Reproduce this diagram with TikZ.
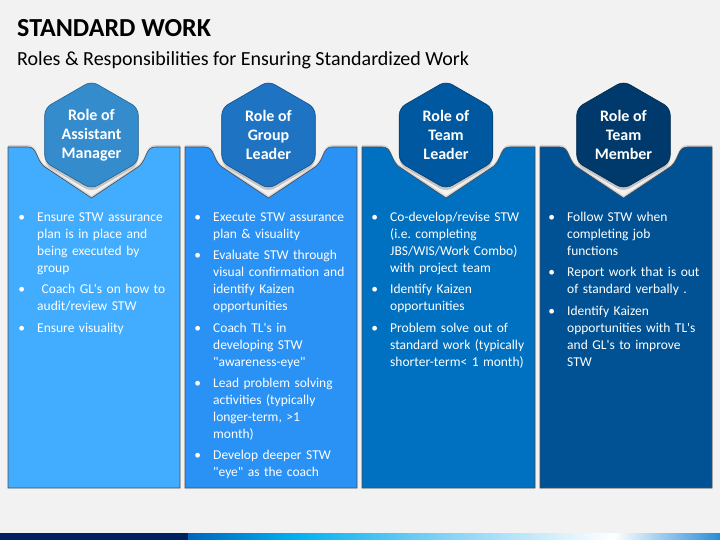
\documentclass[tikz,border=0pt]{standalone}
\usepackage{fontspec}
\setmainfont{Carlito}
\usepackage{enumitem}
\usetikzlibrary{shapes.geometric,shadows,positioning}
\definecolor{pageGray}{RGB}{242,242,242}
\definecolor{panelA}{RGB}{66,173,255}
\definecolor{panelB}{RGB}{42,145,245}
\definecolor{panelC}{RGB}{0,112,192}
\definecolor{panelD}{RGB}{0,82,148}
\definecolor{hexA}{RGB}{52,140,205}
\definecolor{hexB}{RGB}{30,115,195}
\definecolor{hexC}{RGB}{0,88,160}
\definecolor{hexD}{RGB}{0,58,108}
\definecolor{bandNavy}{RGB}{0,32,96}
\definecolor{bandA}{RGB}{0,100,190}
\definecolor{bandB}{RGB}{0,176,240}
\definecolor{bandC}{RGB}{140,212,245}
\definecolor{bandD}{RGB}{40,140,215}
\pgfdeclarehorizontalshading{stwband}{100bp}{color(0bp)=(bandA); color(25bp)=(bandA);
  color(35bp)=(bandB); color(50bp)=(bandC); color(65bp)=(white); color(75bp)=(bandD); color(100bp)=(bandD)}
\setlist[itemize]{label=\textbullet, leftmargin=18pt, labelsep=12pt, itemsep=4.3pt, topsep=0pt, parsep=0pt, partopsep=0pt}
\newcommand\ap{\textquotesingle}
\newcommand\qt{\textquotedbl}
\frenchspacing

\begin{document}
\begin{tikzpicture}[
    x=1pt, y=-1pt,
    panel/.style={draw=gray!60!black, line width=0.6pt,
      drop shadow={opacity=0.25, shadow xshift=0pt, shadow yshift=2pt}},
    hexrole/.style={regular polygon, regular polygon sides=6, regular polygon rotate=30,
      minimum size=108pt, inner sep=0pt, rounded corners=7pt, line width=0.6pt,
      text=white, align=center, font=\fontsize{16}{19}\selectfont\bfseries,
      drop shadow={opacity=0.4, shadow xshift=0pt, shadow yshift=-3pt}},
    stwlist/.style={anchor=north west, inner sep=0pt, text width=175pt, text=white,
      font=\fontsize{13.5}{17}\selectfont\frenchspacing},
    headline/.style={anchor=base west, inner sep=0pt}
    ]
    \useasboundingbox (0,0) rectangle (720,540);
    \fill[pageGray] (0,0) rectangle (720,540);

    \node[headline, font=\fontsize{26}{30}\selectfont\bfseries] (title) at (17,37) {STANDARD WORK};
    \node[headline, font=\fontsize{20}{24}\selectfont] (subtitle) at (17,66)
      {Roles \& Responsibilities for Ensuring Standardized Work};

    % panels with a notch under each hexagon
    \foreach \pl/\pr/\pc/\hc/\nm/\txt in {
        8/180/panelA/hexA/A/{Role of\\Assistant\\Manager},
        185/357/panelB/hexB/B/{Role of\\Group\\Leader},
        362/535/panelC/hexC/C/{Role of\\Team\\Leader},
        540/712/panelD/hexD/D/{Role of\\Team\\Member}}{
      \pgfmathsetmacro\cx{(\pl+\pr)/2-2.5}
      \filldraw[panel, fill=\pc] (\pl,147) -- ({\cx-64},147)
        .. controls ({\cx-54},147) and ({\cx-56},158) .. ({\cx-48},166)
        -- (\cx,198) -- ({\cx+48},166)
        .. controls ({\cx+56},158) and ({\cx+54},147) .. ({\cx+64},147)
        -- (\pr,147) -- (\pr,488) -- (\pl,488) -- cycle;
      \node[hexrole, fill=\hc, draw=\hc!70!black] (role\nm) at (\cx,135) {\txt};
    }

    \node[stwlist] (listA) at (19,204.5) {\begin{itemize}
      \item Ensure STW assurance\\plan is in place and\\being executed by\\group
      \item \ Coach GL\ap s on how to\\audit/review STW
      \item Ensure visuality
    \end{itemize}};
    \node[stwlist] (listB) at (195,204.5) {\begin{itemize}
      \item Execute STW assurance\\plan \& visuality
      \item Evaluate STW through\\visual confirmation and\\identify Kaizen\\opportunities
      \item Coach TL\ap s in\\developing STW\\\qt awareness-eye\qt
      \item Lead problem solving\\activities (typically\\longer-term, >1\\month)
      \item Develop deeper STW\\\qt eye\qt{} as the coach
    \end{itemize}};
    \node[stwlist] (listC) at (372,204.5) {\begin{itemize}
      \item Co-develop/revise STW\\(i.e.\ completing\\JBS/WIS/Work Combo)\\with project team
      \item Identify Kaizen\\opportunities
      \item Problem solve out of\\standard work (typically\\shorter-term< 1 month)
    \end{itemize}};
    \node[stwlist] (listD) at (549,204.5) {\begin{itemize}
      \item Follow STW when\\completing job\\functions
      \item Report work that is out\\of standard verbally .
      \item Identify Kaizen\\opportunities with TL\ap s\\and GL\ap s to improve\\STW
    \end{itemize}};

    % bottom band
    \fill[bandNavy] (0,533) rectangle (188,540);
    \fill[shading=stwband] (188,533) rectangle (720,540);
  \end{tikzpicture}
\end{document}
